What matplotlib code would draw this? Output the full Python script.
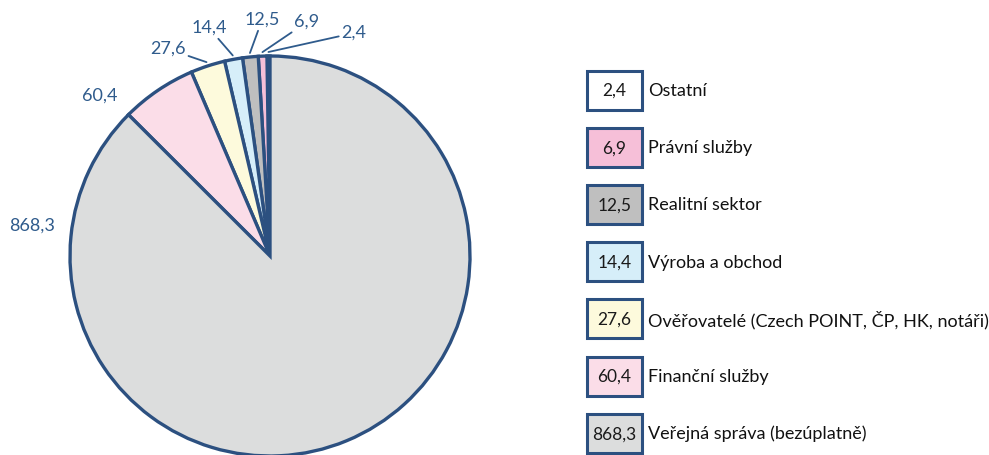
import numpy as np
import matplotlib
matplotlib.use("Agg")
import matplotlib.pyplot as plt
from matplotlib.patches import Rectangle

categories = ["Ostatní", "Právní služby", "Realitní sektor", "Výroba a obchod",
              "Ověřovatelé (Czech POINT, ČP, HK, notáři)", "Finanční služby",
              "Veřejná správa (bezúplatně)"]
values = [2.4, 6.9, 12.5, 14.4, 27.6, 60.4, 868.3]
value_labels = ["2,4", "6,9", "12,5", "14,4", "27,6", "60,4", "868,3"]
colors = ["#ffffff", "#f6bfd8", "#bfbfbf", "#d6eef9", "#fdfadc", "#fbdde8", "#dcdddd"]

EDGE = "#2c5080"
LBL = "#2f5b8c"
plt.rcParams['font.family'] = ['Lato', 'DejaVu Sans']

W, H = 989, 455
fig = plt.figure(figsize=(W / 100, H / 100), dpi=100)

# pie axes: center (270,256) px, radius 200 px
cx, cy, r = 270, 256, 200
ax = fig.add_axes([(cx - r) / W, (H - cy - r) / H, 2 * r / W, 2 * r / H])
wedges, _ = ax.pie(values, colors=colors, startangle=90, counterclock=True,
                   radius=1.0, wedgeprops=dict(edgecolor=EDGE, linewidth=2.4),
                   labels=None)
for w in wedges:
    w.set_clip_on(False)
ax.set_xlim(-1, 1)
ax.set_ylim(-1, 1)
ax.set_aspect('equal')
ax.axis('off')

# label positions (layout, in pie data units)
label_pos = [(0.42, 1.115), (0.185, 1.17), (-0.04, 1.18), (-0.305, 1.14),
             (-0.51, 1.035), (-0.85, 0.80), (-1.19, 0.15)]
leader = [True, True, True, True, True, False, False]
total = sum(values)
start = 90.0
for i, v in enumerate(values):
    ang = start + 360 * v / total / 2
    start += 360 * v / total
    a = np.deg2rad(ang)
    ex, ey = 1.02 * np.cos(a), 1.02 * np.sin(a)
    if leader[i]:
        ax.annotate(value_labels[i], xy=(ex, ey), xytext=label_pos[i],
                    ha='center', va='center', fontsize=13, color=LBL,
                    annotation_clip=False,
                    arrowprops=dict(arrowstyle='-', color=LBL, lw=1.3,
                                    shrinkA=0, shrinkB=0))
    else:
        ax.text(label_pos[i][0], label_pos[i][1], value_labels[i], ha='center',
                va='center', fontsize=13, color=LBL, clip_on=False)

# legend in pixel coords
lax = fig.add_axes([0, 0, 1, 1])
lax.set_xlim(0, W)
lax.set_ylim(H, 0)
lax.axis('off')
bx, bw, bh = 587, 55, 39
y0, dy = 90, 57.2
for i, cat in enumerate(categories):
    yc = y0 + dy * i
    lax.add_patch(Rectangle((bx, yc - bh / 2), bw, bh, facecolor=colors[i],
                            edgecolor=EDGE, linewidth=2.2))
    lax.text(bx + bw / 2, yc + 1, value_labels[i], ha='center', va='center',
             fontsize=12.5, color="#1a1a1a")
    lax.text(bx + bw + 6, yc + 1, cat, ha='left', va='center', fontsize=13,
             color="#111111")

fig.savefig("out.png", dpi=100)
